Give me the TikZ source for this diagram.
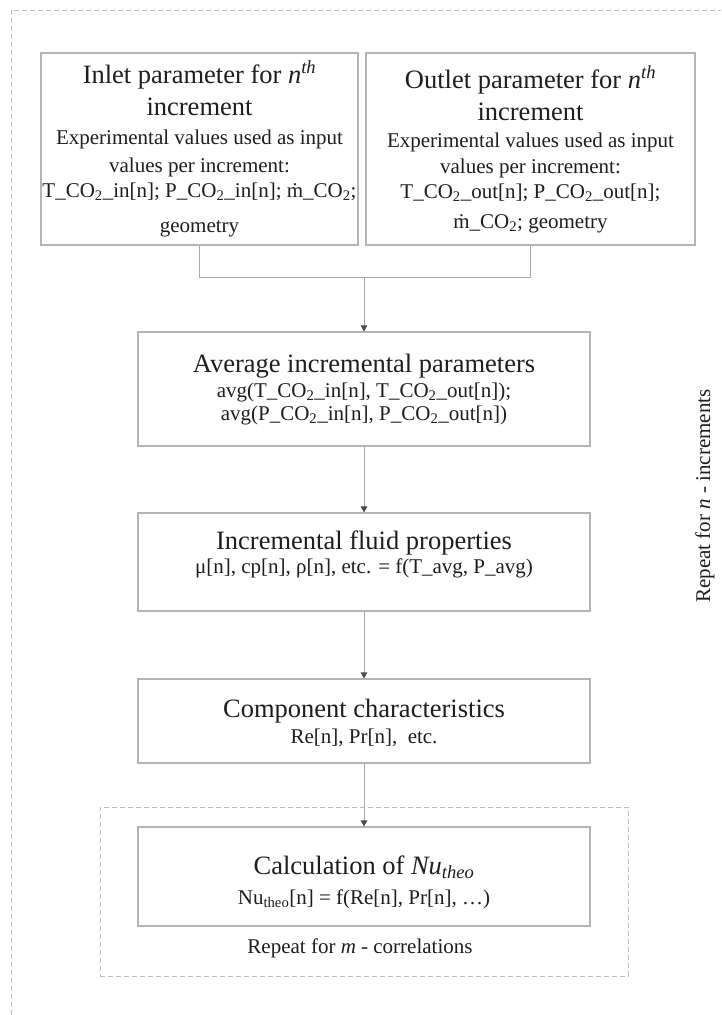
\documentclass[tikz,border=0pt]{standalone}
\usepackage{fontspec}
\setmainfont{Liberation Serif}
\usetikzlibrary{arrows.meta}
\definecolor{boxgray}{HTML}{B4B4B4}
\definecolor{txt}{HTML}{1E1E1E}
\definecolor{linegray}{HTML}{A8A8A8}
\definecolor{dashgray}{HTML}{BDBDBD}
\newcommand{\cotwo}{CO\textsubscript{2}}
\begin{document}
\begin{tikzpicture}[x=1pt,y=-1pt,
  box/.style={draw=boxgray,line width=1.1pt,inner sep=0pt,fill=white},
  ttl/.style={font=\fontsize{26.5}{30}\selectfont,text=txt,anchor=base,inner sep=0pt},
  bod/.style={font=\fontsize{21}{24}\selectfont,text=txt,anchor=base,inner sep=0pt},
  conn/.style={draw=linegray,line width=0.9pt},
  arr/.style={conn,-{Triangle[length=6pt,width=6.5pt,color=txt!80]}},
  dashframe/.style={draw=dashgray,line width=1pt,dash pattern=on 5pt off 3pt}]
\useasboundingbox (0,0) rectangle (721,1015);
\fill[white] (0,0) rectangle (721,1015);
% outer frame (cut off at right and bottom)
\draw[dashframe] (11,1015) -- (11,10) -- (721,10);
% inner dashed frame
\node[dashframe,inner sep=0pt,minimum width=528pt,minimum height=169pt] (rep) at (364,891.5) {};
% boxes
\node[box,minimum width=317pt,minimum height=192pt] (inlet) at (199.5,149) {};
\node[box,minimum width=329pt,minimum height=192pt] (outlet) at (530.5,149) {};
\node[box,minimum width=452pt,minimum height=114pt] (avg) at (364,389) {};
\node[box,minimum width=452pt,minimum height=98pt] (fluid) at (364,562) {};
\node[box,minimum width=452pt,minimum height=84pt] (comp) at (364,721) {};
\node[box,minimum width=452pt,minimum height=99pt] (calc) at (364,876.5) {};
% inlet texts
\node[ttl] (in1) at (199.5,83) {Inlet parameter for \textit{n}\textsuperscript{\textit{th}}};
\node[ttl] (in2) at (199.5,115) {increment};
\node[bod] (in3) at (199.5,144) {Experimental values used as input};
\node[bod] (in4) at (199.5,172) {values per increment:};
\node[bod] (in5) at (199.5,197) {T\_\cotwo\_in[n]; P\_\cotwo\_in[n]; \.{m}\_\cotwo;};
\node[bod] (in6) at (199.5,232) {geometry};
% outlet texts
\node[ttl] (out1) at (530.5,88) {Outlet parameter for \textit{n}\textsuperscript{\textit{th}}};
\node[ttl] (out2) at (530.5,120) {increment};
\node[bod] (out3) at (530.5,147) {Experimental values used as input};
\node[bod] (out4) at (530.5,173) {values per increment:};
\node[bod] (out5) at (530.5,198) {T\_\cotwo\_out[n]; P\_\cotwo\_out[n];};
\node[bod] (out6) at (530.5,228) {\.{m}\_\cotwo; geometry};
% average texts
\node[ttl] (av1) at (364,372) {Average incremental parameters};
\node[bod] (av2) at (364,397) {avg(T\_\cotwo\_in[n], T\_\cotwo\_out[n]);};
\node[bod] (av3) at (364,420) {avg(P\_\cotwo\_in[n], P\_\cotwo\_out[n])};
% fluid texts
\node[ttl] (fl1) at (364,549) {Incremental fluid properties};
\node[bod] (fl2) at (364,573) {μ[n], cp[n], ρ[n], etc. = f(T\_avg, P\_avg)};
% component texts
\node[ttl] (co1) at (364,717) {Component characteristics};
\node[bod] (co2) at (364,743) {Re[n], Pr[n], \ etc.};
% calc texts
\node[ttl] (ca1) at (364,874) {Calculation of \textit{Nu\textsubscript{theo}}};
\node[bod] (ca2) at (364,904) {Nu\textsubscript{theo}[n] = f(Re[n], Pr[n], …)};
\node[bod] (ca3) at (360,953) {Repeat for \textit{m} - correlations};
% rotated label
\node[bod,anchor=center,rotate=90] (repn) at (705,496) {Repeat for \textit{n} - increments};
% connectors
\coordinate (j) at (364,277);
\draw[conn] (inlet.south) |- (j);
\draw[conn] (outlet.south) |- (j);
\draw[arr] (j) -- (avg.north);
\draw[arr] (avg.south) -- (fluid.north);
\draw[arr] (fluid.south) -- (comp.north);
\draw[arr] (comp.south) -- (calc.north);
\end{tikzpicture}
\end{document}
